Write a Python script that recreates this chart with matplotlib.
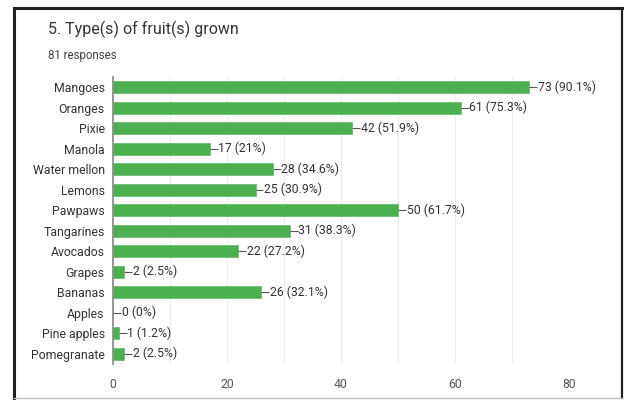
import matplotlib
matplotlib.use("Agg")
import matplotlib.pyplot as plt
from matplotlib.lines import Line2D

plt.rcParams['font.family'] = ['Roboto', 'DejaVu Sans']

fruits = ["Mangoes", "Oranges", "Pixie", "Manola", "Water mellon", "Lemons",
          "Pawpaws", "Tangarines", "Avocados", "Grapes", "Bananas", "Apples",
          "Pine apples", "Pomegranate"]
counts = [73, 61, 42, 17, 28, 25, 50, 31, 22, 2, 26, 0, 1, 2]
percents = ["90.1%", "75.3%", "51.9%", "21%", "34.6%", "30.9%", "61.7%",
            "38.3%", "27.2%", "2.5%", "32.1%", "0%", "1.2%", "2.5%"]
xticks = [0, 20, 40, 60, 80]

fig = plt.figure(figsize=(6.24, 4.0), dpi=100)
fig.patch.set_facecolor('white')

# outer card frame: dark left/top/right edges, pale bottom edge
L, R, T, B = 13.5 / 624, 621.5 / 624, 1 - 7.5 / 400, 1 - 397.5 / 400
frame = [((L, L), (B, T), '#222222', 2.2),
         ((L, R), (T, T), '#222222', 2.2),
         ((R, R), (B, T), '#222222', 1.6),
         ((L, R), (B, B), '#bbbbbb', 1.0)]
for xs, ys, col, lw in frame:
    fig.add_artist(Line2D(xs, ys, transform=fig.transFigure, color=col,
                          linewidth=lw, solid_capstyle='projecting'))

fig.text(48 / 624, 1 - 29 / 400, "5. Type(s) of fruit(s) grown",
         fontsize=11.5, color='#333333', va='center', ha='left')
fig.text(48 / 624, 1 - 55 / 400, "81 responses",
         fontsize=8.3, color='#444444', va='center', ha='left')

ax = fig.add_axes([113 / 624, 1 - 364 / 400, (569 - 113) / 624, (364 - 77) / 400])
y = list(range(len(fruits)))
ax.barh(y, counts, height=0.6, color='#4caf50', edgecolor='#6cc070',
        linewidth=0.6, zorder=3)
ax.set_ylim(len(fruits) - 0.5, -0.5)
ax.set_xlim(0, 80)
ax.set_xticks(xticks)
ax.set_xticks(range(0, 81, 10), minor=True)
ax.grid(axis='x', which='both', color='#ececec', linewidth=0.8, zorder=0)
ax.set_yticks(y)
ax.set_yticklabels(fruits, fontsize=8.8, color='#333333')
ax.tick_params(axis='y', length=0, pad=6)
ax.tick_params(axis='x', length=0, pad=10, labelsize=8.8, labelcolor='#555555')
ax.tick_params(axis='x', which='minor', length=0)
for s in ['top', 'right', 'bottom']:
    ax.spines[s].set_visible(False)
ax.spines['left'].set_color('#888888')
ax.spines['left'].set_linewidth(1.2)
ax.spines['left'].set_zorder(4)

for yi, c, p in zip(y, counts, percents):
    ax.plot([c, c + 1.4], [yi, yi], color='#555555', linewidth=0.8,
            zorder=4, clip_on=False, solid_capstyle='butt')
    ax.text(c + 1.5, yi, f"{c} ({p})", fontsize=8.8, color='#333333',
            va='center', ha='left', zorder=4, clip_on=False)

fig.savefig("out.png", dpi=100, facecolor='white')
